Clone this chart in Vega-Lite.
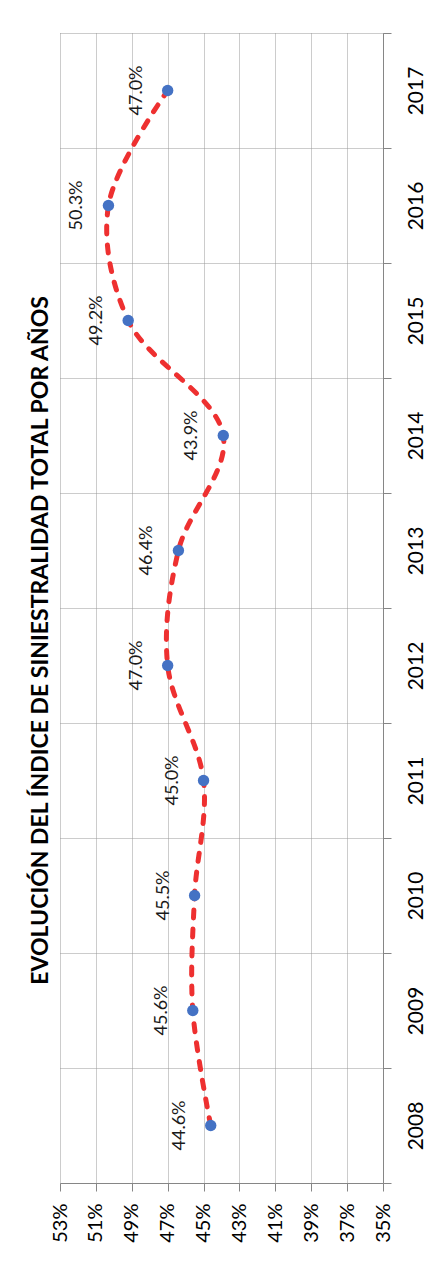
{
  "$schema": "https://vega.github.io/schema/vega-lite/v6.json",
  "autosize": "none",
  "width": 323,
  "height": 1150,
  "padding": {"left": 60, "top": 33, "right": 49, "bottom": 104},
  "background": "white",
  "config": {
    "view": {"stroke": null},
    "font": "Lato"
  },
  "title": {
    "text": "EVOLUCIÓN DEL ÍNDICE DE SINIESTRALIDAD TOTAL POR AÑOS",
    "orient": "left",
    "anchor": "middle",
    "frame": "bounds",
    "font": "Lato",
    "fontSize": 23,
    "fontWeight": "bold",
    "color": "#000000",
    "offset": -3,
    "dx": -3
  },
  "data": {
    "values": [
      {"year": 2008, "value": 0.446},
      {"year": 2009, "value": 0.456},
      {"year": 2010, "value": 0.455},
      {"year": 2011, "value": 0.450},
      {"year": 2012, "value": 0.470},
      {"year": 2013, "value": 0.464},
      {"year": 2014, "value": 0.439},
      {"year": 2015, "value": 0.492},
      {"year": 2016, "value": 0.503},
      {"year": 2017, "value": 0.470}
    ]
  },
  "encoding": {
    "x": {
      "field": "value",
      "type": "quantitative",
      "scale": {"domain": [0.35, 0.53], "reverse": true, "nice": false, "zero": false},
      "axis": {
        "title": null,
        "orient": "bottom",
        "values": [0.35, 0.37, 0.39, 0.41, 0.43, 0.45, 0.47, 0.49, 0.51, 0.53],
        "format": ".0%",
        "labelAngle": 270,
        "labelAlign": "right",
        "labelBaseline": "middle",
        "labelFont": "Lato",
        "labelFontSize": 20,
        "labelColor": "#000000",
        "labelPadding": 12,
        "labelFlush": false,
        "labelOverlap": false,
        "tickSize": 8,
        "tickColor": "#868686",
        "domainColor": "#868686",
        "grid": true,
        "gridColor": "#999999",
        "gridDash": [1, 1],
        "gridWidth": 1
      }
    },
    "y": {
      "field": "year",
      "type": "quantitative",
      "scale": {"domain": [2007.5, 2017.5], "nice": false, "zero": false},
      "axis": {
        "title": null,
        "orient": "right",
        "values": [2007.5, 2008, 2008.5, 2009, 2009.5, 2010, 2010.5, 2011, 2011.5, 2012, 2012.5, 2013, 2013.5, 2014, 2014.5, 2015, 2015.5, 2016, 2016.5, 2017, 2017.5],
        "labelExpr": "datum.value % 1 === 0 ? format(datum.value, 'd') : ''",
        "labelAngle": 270,
        "labelAlign": "center",
        "labelBaseline": "top",
        "labelFont": "Lato",
        "labelFontSize": 21,
        "labelColor": "#000000",
        "labelPadding": 14,
        "labelFlush": false,
        "labelOverlap": false,
        "tickSize": 8,
        "tickColor": "#868686",
        "tickOpacity": {"condition": {"test": "datum.value % 1 === 0", "value": 0}, "value": 1},
        "domainColor": "#868686",
        "grid": true,
        "gridColor": "#999999",
        "gridDash": [1, 1],
        "gridWidth": 1,
        "gridOpacity": {"condition": {"test": "datum.value % 1 === 0", "value": 0}, "value": 1}
      }
    }
  },
  "layer": [
    {
      "mark": {
        "type": "line",
        "interpolate": "catmull-rom",
        "color": "#ee3030",
        "strokeWidth": 5,
        "strokeDash": [8, 11],
        "strokeCap": "round"
      },
      "encoding": {
        "order": {"field": "year", "type": "quantitative"}
      }
    },
    {
      "mark": {"type": "point", "filled": true, "size": 130, "color": "#4472c4", "opacity": 1}
    },
    {
      "mark": {
        "type": "text",
        "angle": 270,
        "align": "center",
        "baseline": "middle",
        "dy": -31,
        "font": "Lato",
        "fontSize": 18,
        "color": "#1a1a1a"
      },
      "encoding": {
        "text": {"field": "value", "type": "quantitative", "format": ".1%"}
      }
    }
  ]
}
